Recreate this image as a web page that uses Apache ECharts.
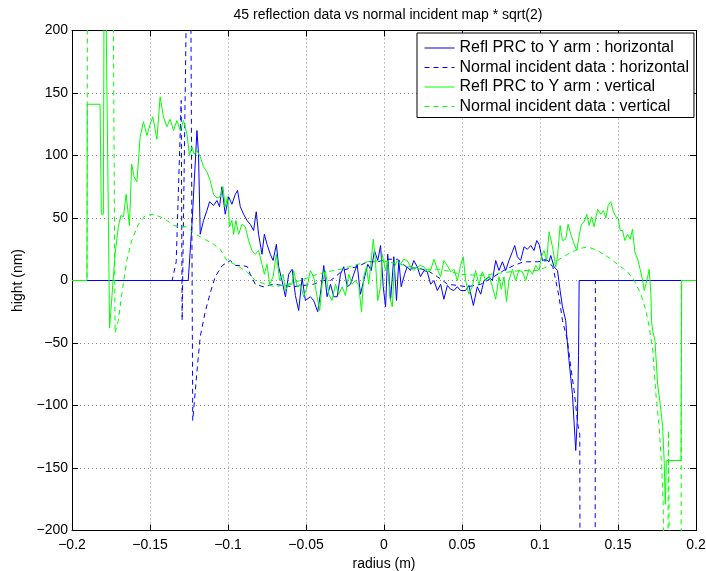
<!DOCTYPE html>
<html>
<head>
<meta charset="utf-8">
<title>45 reflection data vs normal incident map</title>
<script src="https://cdn.jsdelivr.net/npm/echarts@6/dist/echarts.min.js"></script>
<style>
  html, body { margin: 0; padding: 0; background: #fff; }
  #chart { width: 706px; height: 571px; }
</style>
</head>
<body>
<div id="chart"></div>
<script>
// radius (m), hight (nm) pairs
const reflHorizontal = [
  [-0.2,0],[-0.1255,0],[-0.1231,45],[-0.1199,120],[-0.1189,101],[-0.1178,37],[-0.1157,48],[-0.1135,56],[-0.1118,63],[-0.1093,60],
  [-0.1071,64],[-0.1054,59],[-0.1039,75],[-0.1018,53],[-0.0996,67],[-0.0975,61],[-0.0953,69],[-0.0939,72],[-0.0921,59],[-0.0900,53],
  [-0.0878,48],[-0.0857,45],[-0.0836,40],[-0.0819,55],[-0.0804,37],[-0.0782,21],[-0.0767,37],[-0.0750,29],[-0.0729,21],[-0.0711,16],
  [-0.0690,29],[-0.0675,11],[-0.0654,0],[-0.0632,-13],[-0.0611,5],[-0.0589,9],[-0.0568,-12],[-0.0547,-24],[-0.0525,2],[-0.0504,-16],
  [-0.0472,-13],[-0.0451,-16],[-0.0425,-25],[-0.0408,-11],[-0.0386,12],[-0.0365,-13],[-0.0343,-3],[-0.0322,-13],[-0.0300,-13],[-0.0279,5],
  [-0.0258,11],[-0.0236,-5],[-0.0215,-3],[-0.0194,5],[-0.0172,13],[-0.0151,-11],[-0.0130,0],[-0.0104,13],[-0.0082,8],[-0.0061,24],
  [-0.0040,16],[-0.0022,28],[-0.0005,-5],[0.0010,-21],[0.0024,21],[0.0042,-16],[0.0063,19],[0.0080,-16],[0.0095,16],[0.0110,-5],
  [0.0132,5],[0.0149,11],[0.0170,8],[0.0191,16],[0.0213,11],[0.0234,3],[0.0256,8],[0.0277,7],[0.0299,-3],[0.0320,0],
  [0.0342,-8],[0.0363,-3],[0.0384,-15],[0.0406,-4],[0.0427,-7],[0.0448,-8],[0.0470,-5],[0.0491,-8],[0.0523,-8],[0.0544,-4],
  [0.0573,-20],[0.0598,-5],[0.0620,-11],[0.0641,0],[0.0673,3],[0.0695,0],[0.0716,16],[0.0737,8],[0.0759,15],[0.0780,8],
  [0.0801,16],[0.0823,23],[0.0838,28],[0.0855,19],[0.0876,16],[0.0898,27],[0.0919,25],[0.0941,28],[0.0962,24],[0.0979,32],
  [0.0994,29],[0.1016,16],[0.1037,17],[0.1058,15],[0.1069,20],[0.1090,11],[0.1112,8],[0.1129,-8],[0.1144,-21],[0.1165,-32],
  [0.1172,-45],[0.1186,-64],[0.1208,-91],[0.1229,-136],[0.1240,-109],[0.1247,-60],[0.1251,0],[0.2,0]
]
const normalHorizontal = [
  [-0.2,0],[-0.1358,0],[-0.1332,15],[-0.1300,144],[-0.1294,-32],[-0.1255,330],[-0.1242,330],[-0.1226,-112],[-0.1197,-70],[-0.1178,-45],
  [-0.1146,-25],[-0.1114,-10],[-0.1082,3],[-0.1037,12],[-0.0985,16],[-0.0953,12],[-0.0908,12],[-0.0876,11],[-0.0857,5],[-0.0825,-3],
  [-0.0774,-5],[-0.0709,-3],[-0.0645,-4],[-0.0581,-5],[-0.0517,-4],[-0.0453,-3],[-0.0388,0],[-0.0343,0],[-0.0311,3],[-0.0266,8],
  [-0.0215,10],[-0.0170,11],[-0.0106,15],[-0.0042,15],[0.0022,17],[0.0087,17],[0.0151,10],[0.0215,10],[0.0279,8],[0.0343,3],
  [0.0408,-3],[0.0472,-4],[0.0536,-5],[0.0620,-3],[0.0703,3],[0.0767,8],[0.0831,12],[0.0896,15],[0.0985,15],[0.1050,16],
  [0.1082,11],[0.1101,0],[0.1122,-13],[0.1144,-32],[0.1176,-48],[0.1197,-69],[0.1219,-88],[0.1242,-115],[0.1255,-123],[0.1258,-330],
  [0.1353,-330],[0.1355,0],[0.2,0]
]
const reflVertical = [
  [-0.2,0],[-0.1904,0],[-0.1902,141],[-0.1820,141],[-0.1812,53],[-0.1799,53],[-0.1792,330],[-0.1782,330],[-0.1759,-38],[-0.1724,21],
  [-0.1703,43],[-0.1687,52],[-0.1670,51],[-0.1653,69],[-0.1632,44],[-0.1617,93],[-0.1602,83],[-0.1584,79],[-0.1563,115],[-0.1542,127],
  [-0.1520,116],[-0.1499,125],[-0.1482,131],[-0.1456,113],[-0.1435,147],[-0.1414,131],[-0.1392,123],[-0.1371,129],[-0.1349,120],[-0.1328,128],
  [-0.1306,120],[-0.1285,128],[-0.1263,117],[-0.1247,100],[-0.1231,107],[-0.1217,101],[-0.1199,104],[-0.1178,99],[-0.1157,91],[-0.1135,87],
  [-0.1114,80],[-0.1093,69],[-0.1071,66],[-0.1050,67],[-0.1032,75],[-0.1018,59],[-0.1003,67],[-0.0990,43],[-0.0975,48],[-0.0964,37],
  [-0.0949,48],[-0.0932,37],[-0.0910,45],[-0.0889,43],[-0.0868,32],[-0.0846,24],[-0.0825,21],[-0.0804,24],[-0.0782,13],[-0.0767,5],
  [-0.0750,13],[-0.0733,-3],[-0.0711,3],[-0.0690,21],[-0.0669,0],[-0.0647,5],[-0.0632,-8],[-0.0611,-3],[-0.0589,-3],[-0.0579,8],
  [-0.0557,-5],[-0.0536,-3],[-0.0515,-13],[-0.0493,-5],[-0.0472,8],[-0.0451,3],[-0.0429,-13],[-0.0412,-24],[-0.0397,-3],[-0.0376,8],
  [-0.0354,-11],[-0.0333,-16],[-0.0311,-3],[-0.0290,-11],[-0.0268,-5],[-0.0247,-12],[-0.0226,5],[-0.0204,-3],[-0.0183,0],[-0.0162,-4],
  [-0.0144,-25],[-0.0130,3],[-0.0112,11],[-0.0098,-3],[-0.0082,16],[-0.0069,33],[-0.0055,16],[-0.0040,-16],[-0.0022,-5],[-0.0012,21],
  [0.0010,8],[0.0024,16],[0.0037,-13],[0.0053,-21],[0.0067,11],[0.0085,16],[0.0106,13],[0.0127,17],[0.0149,16],[0.0170,11],
  [0.0191,8],[0.0213,11],[0.0234,12],[0.0256,11],[0.0277,7],[0.0299,8],[0.0320,17],[0.0342,9],[0.0363,3],[0.0384,16],
  [0.0406,12],[0.0427,7],[0.0448,9],[0.0470,0],[0.0491,12],[0.0508,19],[0.0523,0],[0.0544,-11],[0.0566,-5],[0.0587,8],
  [0.0609,-3],[0.0630,7],[0.0652,0],[0.0673,4],[0.0695,-5],[0.0716,-15],[0.0737,3],[0.0752,-7],[0.0769,3],[0.0785,-17],
  [0.0801,0],[0.0823,9],[0.0844,0],[0.0865,8],[0.0887,7],[0.0908,0],[0.0930,9],[0.0951,5],[0.0973,12],[0.0994,8],
  [0.1009,19],[0.1026,24],[0.1043,16],[0.1058,39],[0.1080,27],[0.1101,11],[0.1112,19],[0.1129,44],[0.1144,32],[0.1165,33],
  [0.1180,45],[0.1197,37],[0.1219,29],[0.1236,24],[0.1251,36],[0.1266,45],[0.1283,47],[0.1300,53],[0.1315,44],[0.1330,51],
  [0.1347,43],[0.1369,57],[0.1390,53],[0.1407,56],[0.1422,50],[0.1437,60],[0.1454,63],[0.1471,55],[0.1486,51],[0.1501,50],
  [0.1514,40],[0.1529,40],[0.1544,32],[0.1561,37],[0.1578,33],[0.1593,41],[0.1608,23],[0.1626,17],[0.1642,9],[0.1658,0],
  [0.1668,-8],[0.1679,-3],[0.1690,3],[0.1700,9],[0.1711,-11],[0.1715,-32],[0.1722,-40],[0.1737,-48],[0.1754,-83],[0.1771,-99],
  [0.1786,-117],[0.1796,-144],[0.1803,-179],[0.1810,-144],[0.1904,-144],[0.1908,0],[0.2,0]
]
const normalVertical = [
  [-0.2,0],[-0.1904,0],[-0.1900,330],[-0.1740,330],[-0.1724,-42],[-0.1703,-32],[-0.1681,-11],[-0.1649,16],[-0.1617,32],[-0.1574,45],
  [-0.1531,52],[-0.1478,53],[-0.1435,51],[-0.1392,48],[-0.1349,44],[-0.1306,43],[-0.1263,43],[-0.1221,38],[-0.1178,35],[-0.1135,32],
  [-0.1093,29],[-0.1050,25],[-0.1007,16],[-0.0942,12],[-0.0878,7],[-0.0825,0],[-0.0761,-3],[-0.0697,-5],[-0.0620,-3],[-0.0536,0],
  [-0.0453,4],[-0.0363,7],[-0.0279,9],[-0.0196,12],[-0.0106,15],[-0.0022,16],[0.0106,13],[0.0234,9],[0.0363,9],[0.0491,5],
  [0.0620,4],[0.0748,6],[0.0876,8],[0.0984,8],[0.1048,11],[0.1112,16],[0.1176,21],[0.1240,25],[0.1305,27],[0.1369,24],
  [0.1433,19],[0.1497,13],[0.1561,7],[0.1604,0],[0.1647,-11],[0.1679,-24],[0.1700,-37],[0.1722,-55],[0.1743,-91],[0.1764,-117],
  [0.1780,-149],[0.1790,-181],[0.1798,-330],[0.1817,-330],[0.1823,-120],[0.1836,-330],[0.1904,-330],[0.1906,0],[0.2,0]
]
const seriesNames = [
  'Refl PRC to Y arm : horizontal',
  'Normal incident data : horizontal',
  'Refl PRC to Y arm : vertical',
  'Normal incident data : vertical'
]

const font = 'Liberation Sans, Arial, Helvetica, sans-serif'
const minus = (s) => String(s).replace('-', '\u2212')
const gridLine = { show: true, lineStyle: { color: '#8c8c8c', width: 1, type: [1, 3] } }

const chart = echarts.init(document.getElementById('chart'), null, { renderer: 'canvas' })

function axisPair(isX) {
  const base = isX
    ? { type: 'value', min: -0.2, max: 0.2, interval: 0.05 }
    : { type: 'value', min: -200, max: 200, interval: 50 }
  const main = Object.assign({}, base, {
    axisLine: { show: true, onZero: false, lineStyle: { color: '#000', width: 1 } },
    axisTick: { show: true, inside: true, length: 6, lineStyle: { color: '#000' } },
    axisLabel: {
      color: '#000', fontSize: 14, fontFamily: font, margin: isX ? 8 : 4,
      formatter: (v) => minus(isX ? +v.toFixed(2) : v)
    },
    splitLine: gridLine,
    name: isX ? 'radius (m)' : 'hight (nm)',
    nameLocation: 'middle',
    nameGap: isX ? 18 : 42,
    nameTextStyle: { color: '#000', fontSize: 14, fontFamily: font }
  })
  const mirror = Object.assign({}, base, {
    position: isX ? 'top' : 'right',
    axisLine: { show: true, onZero: false, lineStyle: { color: '#000', width: 1 } },
    axisTick: { show: true, inside: true, length: 6, lineStyle: { color: '#000' } },
    axisLabel: { show: false },
    splitLine: { show: false }
  })
  return [main, mirror]
}

function lineSeries(name, data, color, dashed) {
  return {
    name: name,
    type: 'line',
    data: data,
    symbol: 'none',
    clip: true,
    animation: false,
    lineStyle: { color: color, width: 1, type: dashed ? [5, 4] : 'solid' },
    itemStyle: { color: color }
  }
}

chart.setOption({
  animation: false,
  title: {
    text: '45 reflection data vs normal incident map * sqrt(2)',
    left: 383,
    textAlign: 'center',
    top: 3,
    textStyle: { color: '#000', fontSize: 14, fontWeight: 'normal', fontFamily: font }
  },
  // half-pixel offset keeps the zero lines crisp
  grid: { left: 72, right: 10, top: 30.5, bottom: 40.5, outerBoundsMode: 'none' },
  xAxis: axisPair(true),
  yAxis: axisPair(false),
  legend: {
    orient: 'vertical',
    left: 417,
    top: 33,
    padding: [7, 5, 3, 7],
    itemGap: 3.5,
    itemWidth: 30,
    itemHeight: 14,
    backgroundColor: '#fff',
    borderColor: '#000',
    borderWidth: 1,
    borderRadius: 0,
    itemStyle: { opacity: 0 },
    lineStyle: { width: 1 },
    textStyle: { color: '#000', fontSize: 16, fontFamily: font },
    data: seriesNames
  },
  series: [
    lineSeries(seriesNames[0], reflHorizontal, '#0000ff', false),
    lineSeries(seriesNames[1], normalHorizontal, '#0000ff', true),
    lineSeries(seriesNames[2], reflVertical, '#00ff00', false),
    lineSeries(seriesNames[3], normalVertical, '#00ff00', true)
  ]
})
</script>
</body>
</html>
